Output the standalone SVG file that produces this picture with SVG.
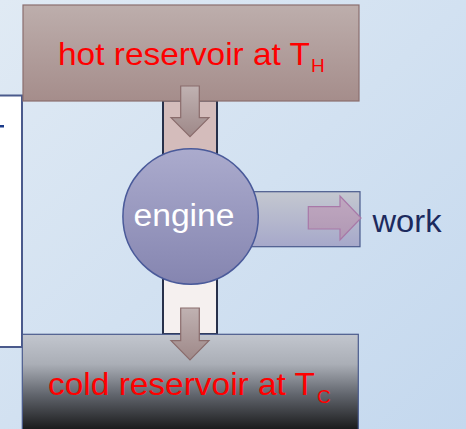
<svg xmlns="http://www.w3.org/2000/svg" width="466" height="429" viewBox="0 0 466 429">
<defs>
<linearGradient id="bg" x1="0" y1="0" x2="1" y2="1">
<stop offset="0" stop-color="#e0eaf4"/>
<stop offset="1" stop-color="#c4d8ee"/>
</linearGradient>
<linearGradient id="hot" x1="0" y1="0" x2="0" y2="1">
<stop offset="0" stop-color="#bdaeac"/>
<stop offset="1" stop-color="#a58d8b"/>
</linearGradient>
<linearGradient id="cold" x1="0" y1="0" x2="0" y2="1">
<stop offset="0" stop-color="#c2c6ce"/>
<stop offset="0.3" stop-color="#aaaeb6"/>
<stop offset="0.6" stop-color="#62666e"/>
<stop offset="1" stop-color="#101010"/>
</linearGradient>
<linearGradient id="eng" x1="0" y1="0" x2="0" y2="1">
<stop offset="0" stop-color="#ababcd"/>
<stop offset="1" stop-color="#8585b0"/>
</linearGradient>
<linearGradient id="workch" x1="0" y1="0" x2="0" y2="1">
<stop offset="0" stop-color="#c4c8d0"/>
<stop offset="1" stop-color="#a6a8ca"/>
</linearGradient>
<linearGradient id="arr" x1="0" y1="0" x2="0" y2="1">
<stop offset="0" stop-color="#c0b2b2"/>
<stop offset="1" stop-color="#9e8888"/>
</linearGradient>
<linearGradient id="warr" x1="0" y1="0" x2="0" y2="1">
<stop offset="0" stop-color="#c0a8c0"/>
<stop offset="1" stop-color="#b098b4"/>
</linearGradient>
</defs>
<style>
.lbl{font-family:"Liberation Sans",Arial,sans-serif;fill:#ff0000}
.chan{stroke:#27304a;stroke-width:2}
.down{fill:url(#arr);stroke:#8a6c6c;stroke-width:1.2}
</style>
<rect x="0" y="0" width="466" height="429" fill="url(#bg)"/>
<g id="panel">
<rect x="-2" y="95.5" width="24" height="251.5" fill="#ffffff" stroke="#4a5a8c" stroke-width="2"/>
<rect x="0" y="125" width="4" height="2.5" fill="#1a3a8a"/>
</g>
<g id="connectors">
<rect class="chan" x="163" y="100.5" width="54" height="100" fill="#d4bcbb"/>
<rect class="chan" x="163" y="260" width="54" height="74" fill="#f5f0ef"/>
<rect x="230" y="191.7" width="130" height="55" fill="url(#workch)" stroke="#4a5a8c" stroke-width="1.2"/>
</g>
<g id="engine">
<circle cx="190.6" cy="216.5" r="67.7" fill="url(#eng)" stroke="#4a5a9a" stroke-width="1.5"/>
<text x="184" y="226" font-family="'Liberation Sans',Arial,sans-serif" font-size="31" fill="#ffffff" text-anchor="middle" textLength="101" lengthAdjust="spacingAndGlyphs">engine</text>
</g>
<g id="hot">
<rect x="23" y="5" width="336" height="96" fill="url(#hot)" stroke="#8a6e6e" stroke-width="1.2"/>
<text class="lbl" x="58" y="65" font-size="32" textLength="252" lengthAdjust="spacingAndGlyphs">hot reservoir at T</text>
<text class="lbl" x="311" y="72" font-size="19">H</text>
</g>
<g id="cold">
<rect x="22.3" y="334.3" width="336" height="100" fill="url(#cold)" stroke="#4a5a8c" stroke-width="1.2"/>
<text class="lbl" x="48" y="395" font-size="32" textLength="267" lengthAdjust="spacingAndGlyphs">cold reservoir at T</text>
<text class="lbl" x="317" y="403" font-size="19">C</text>
</g>
<g id="arrows">
<path class="down" d="M180.7,86 H199.3 V117.7 H209 L190,136.7 L171,117.7 H180.7 Z"/>
<path class="down" d="M180.7,308 H199.3 V340.7 H209 L190,360 L171,340.7 H180.7 Z"/>
<path d="M308.3,206.7 H340 V196 L361,218 L340,240 V229 H308.3 Z" fill="url(#warr)" stroke="#a878a8" stroke-width="1.2"/>
</g>
<g id="work">
<text x="372.5" y="231.7" font-family="'Liberation Sans',Arial,sans-serif" font-size="32" fill="#1c2a5e" textLength="69" lengthAdjust="spacingAndGlyphs">work</text>
</g>
</svg>
